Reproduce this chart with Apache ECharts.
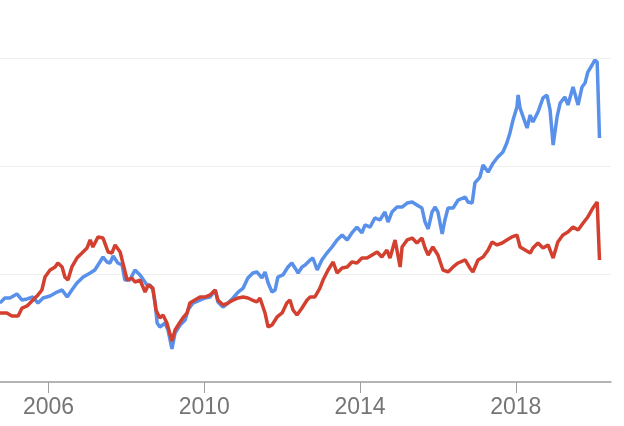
<!DOCTYPE html>
<html>
<head>
<meta charset="utf-8">
<script src="https://cdn.jsdelivr.net/npm/echarts@6/dist/echarts.min.js"></script>
<style>
html,body{margin:0;padding:0;background:#fff;}
#chart{width:624px;height:426px;}
</style>
</head>
<body>
<div id="chart"></div>
<script>
// Tick labels on the x axis (years)
var tickYears = [2006, 2010, 2014, 2018];

// Blue series: decimal year and value (index units)
var blueYears = [2004.75,2004.88,2005.01,2005.19,2005.32,2005.45,2005.60,2005.73,2005.86,2006.04,2006.22,2006.35,2006.48,2006.60,2006.73,2006.89,2007.07,2007.19,2007.32,2007.40,2007.50,2007.58,2007.66,2007.78,2007.89,2007.96,2008.09,2008.22,2008.35,2008.53,2008.61,2008.68,2008.74,2008.79,2008.86,2008.99,2009.07,2009.17,2009.25,2009.38,2009.51,2009.58,2009.71,2009.89,2010.02,2010.15,2010.28,2010.35,2010.48,2010.61,2010.74,2010.87,2011.00,2011.12,2011.25,2011.35,2011.48,2011.56,2011.64,2011.74,2011.82,2011.89,2012.02,2012.15,2012.25,2012.33,2012.41,2012.51,2012.59,2012.72,2012.79,2012.90,2013.02,2013.15,2013.28,2013.41,2013.54,2013.67,2013.79,2013.92,2014.05,2014.13,2014.26,2014.38,2014.51,2014.64,2014.72,2014.82,2014.95,2015.08,2015.21,2015.34,2015.46,2015.59,2015.67,2015.75,2015.85,2015.93,2016.00,2016.11,2016.18,2016.26,2016.39,2016.52,2016.70,2016.77,2016.88,2016.95,2017.08,2017.16,2017.29,2017.42,2017.54,2017.67,2017.77,2017.85,2017.93,2018.03,2018.06,2018.11,2018.19,2018.29,2018.37,2018.44,2018.57,2018.70,2018.80,2018.88,2018.96,2019.06,2019.14,2019.26,2019.34,2019.47,2019.60,2019.70,2019.78,2019.85,2019.96,2020.03,2020.09,2020.15];
var blueValues = [73.1,77.8,77.8,81.5,75.9,76.9,78.7,73.1,77.8,79.6,83.3,85.2,78.7,85.2,91.7,97.2,100.9,103.7,111.1,115.7,111.1,110.2,116.7,110.2,108.3,94.4,94.4,103.7,99.1,89.8,89.8,85.2,73.1,54.6,50.9,54.6,48.1,30.6,45.4,52.8,57.4,66.7,73.1,75.9,77.8,78.7,85.2,74.1,69.4,73.1,77.8,83.3,87.0,96.3,100.9,101.9,96.3,101.9,91.7,83.3,85.2,97.2,99.1,106.5,110.2,105.6,100.9,106.5,108.3,113.0,114.8,103.7,113.0,119.4,125.0,131.5,136.1,131.5,138.0,143.5,138.0,145.4,143.5,151.9,150.0,157.4,148.1,157.4,162.0,162.0,165.7,166.7,163.9,161.1,148.1,141.7,157.4,162.0,157.4,137.0,150.0,161.1,161.1,168.5,171.3,166.7,165.7,184.3,189.8,200.9,194.4,202.8,208.3,213.0,221.3,230.6,242.6,254.6,265.7,253.7,245.4,235.2,247.2,240.7,250.0,263.0,265.7,251.9,219.4,245.4,258.3,263.9,256.5,273.1,256.5,273.1,276.9,287.0,293.5,298.1,296.3,225.9];

// Red series: decimal year and value (index units)
var redYears = [2004.75,2004.93,2005.06,2005.22,2005.32,2005.45,2005.60,2005.73,2005.83,2005.91,2006.04,2006.17,2006.24,2006.35,2006.42,2006.50,2006.60,2006.73,2006.86,2006.99,2007.07,2007.14,2007.27,2007.40,2007.53,2007.63,2007.71,2007.84,2007.91,2008.02,2008.14,2008.22,2008.35,2008.48,2008.56,2008.68,2008.76,2008.86,2008.94,2009.04,2009.17,2009.25,2009.38,2009.45,2009.56,2009.63,2009.76,2009.89,2010.02,2010.15,2010.28,2010.35,2010.48,2010.61,2010.74,2010.87,2011.00,2011.12,2011.23,2011.35,2011.43,2011.56,2011.64,2011.74,2011.87,2012.00,2012.12,2012.20,2012.28,2012.38,2012.51,2012.64,2012.72,2012.84,2012.97,2013.05,2013.18,2013.31,2013.41,2013.54,2013.67,2013.79,2013.92,2014.05,2014.18,2014.31,2014.44,2014.56,2014.69,2014.77,2014.90,2015.03,2015.08,2015.21,2015.34,2015.46,2015.59,2015.67,2015.75,2015.87,2016.00,2016.13,2016.26,2016.39,2016.52,2016.70,2016.82,2016.90,2017.03,2017.16,2017.29,2017.39,2017.52,2017.65,2017.77,2017.90,2018.03,2018.11,2018.24,2018.37,2018.44,2018.57,2018.70,2018.83,2018.96,2019.08,2019.21,2019.34,2019.47,2019.60,2019.73,2019.85,2019.98,2020.09,2020.15];
var redValues = [63.9,63.9,61.1,61.1,68.5,70.4,75.9,80.6,85.2,97.2,103.7,106.5,110.2,106.5,97.2,94.4,106.5,114.8,119.4,124.1,131.5,125.0,134.3,133.3,120.4,119.4,126.9,120.4,110.2,94.4,96.3,92.6,94.4,83.3,89.8,87.0,66.7,59.3,62.0,54.6,38.0,48.1,55.6,59.3,63.9,73.1,75.9,78.7,78.7,80.6,85.2,75.9,71.3,73.1,75.9,77.8,78.7,77.8,75.9,74.1,77.8,63.9,50.9,52.8,60.2,63.9,73.1,75.9,66.7,62.0,68.5,75.9,78.7,78.7,87.0,94.4,103.7,111.1,100.9,105.6,106.5,111.1,110.2,114.8,114.8,117.6,120.4,115.7,122.2,114.8,131.5,106.5,125.0,131.5,133.3,128.7,133.3,124.1,117.6,125.0,117.6,103.7,101.9,106.5,110.2,113.0,105.6,101.9,113.0,115.7,122.2,129.6,126.9,128.7,131.5,134.3,136.1,125.0,122.2,119.4,124.1,128.7,124.1,126.9,114.8,129.6,136.1,138.9,143.5,140.7,147.2,152.8,161.1,166.7,113.0];

function zip(xs, ys) { return xs.map(function (x, i) { return [x, ys[i]]; }); }

var chart = echarts.init(document.getElementById('chart'), null, { renderer: 'canvas' });
chart.setOption({
  animation: false,
  backgroundColor: '#ffffff',
  grid: { left: 0, right: 13, top: 58, bottom: 44, containLabel: false },
  xAxis: {
    type: 'value',
    min: 2004.7545,
    max: 2020.4453,
    splitLine: { show: false },
    axisLine: { show: true, onZero: false, lineStyle: { color: '#9e9e9e', width: 1.5 } },
    axisTick: { show: true, customValues: tickYears, length: 11, lineStyle: { color: '#9e9e9e', width: 1 } },
    axisLabel: {
      show: true,
      customValues: tickYears,
      margin: 14,
      fontSize: 23,
      fontFamily: 'Liberation Sans, Arial, sans-serif',
      color: '#757575',
      formatter: function (v) { return String(Math.round(v)); }
    }
  },
  yAxis: {
    type: 'value',
    min: 0,
    max: 300,
    interval: 100,
    axisLine: { show: false },
    axisTick: { show: false },
    axisLabel: { show: false },
    splitLine: { show: true, lineStyle: { color: '#efefef', width: 1 } }
  },
  series: [
    {
      type: 'line',
      name: 'Blue',
      data: zip(blueYears, blueValues),
      showSymbol: false,
      clip: false,
      lineStyle: { color: '#5890ea', width: 3.5 },
      itemStyle: { color: '#5890ea' }
    },
    {
      type: 'line',
      name: 'Red',
      data: zip(redYears, redValues),
      showSymbol: false,
      clip: false,
      lineStyle: { color: '#d3402f', width: 3.5 },
      itemStyle: { color: '#d3402f' }
    }
  ]
});
</script>
</body>
</html>
